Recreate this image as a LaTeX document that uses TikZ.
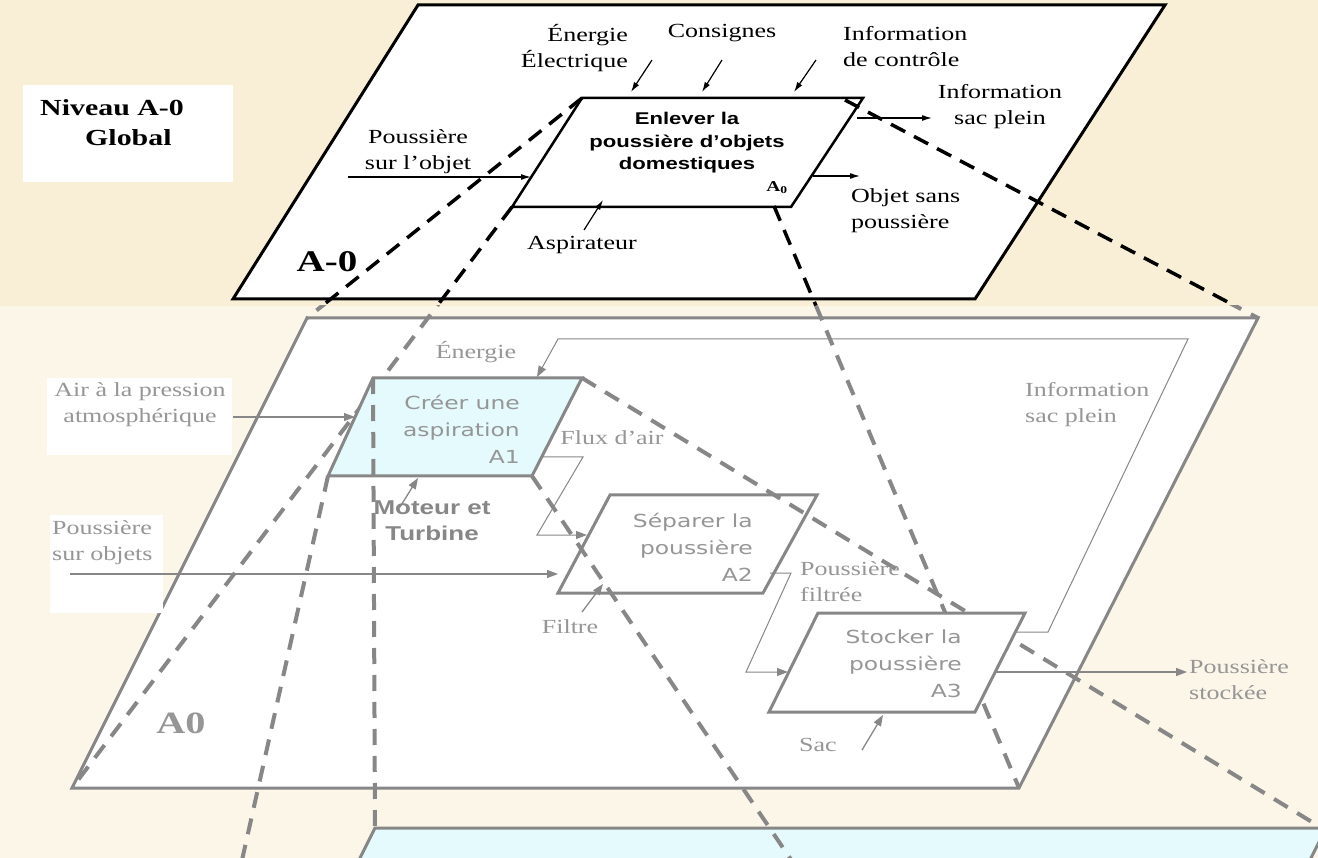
\documentclass[tikz,border=0pt]{standalone}
\usepackage{fontspec}
\setmainfont{Liberation Serif}[FakeStretch=1.3]
\newfontfamily\sansfont{Liberation Sans}[FakeStretch=1.3]
\newfontfamily\boxfont{DejaVu Sans}[FakeStretch=1.3]
\usetikzlibrary{arrows.meta}

\definecolor{topbg}{RGB}{249,239,214}
\definecolor{lowbg}{RGB}{252,246,233}
\definecolor{linegray}{RGB}{135,135,135}
\definecolor{txtgray}{RGB}{150,150,150}
\definecolor{boxcyan}{RGB}{228,250,252}

\tikzset{
	lab/.style={font=\fontsize{20}{26}\selectfont, align=center, inner sep=0pt},
	glab/.style={lab, text=txtgray},
	boxtxt/.style={font=\boxfont\fontsize{18}{27}\selectfont, text=txtgray, align=right, inner sep=0pt, anchor=east},
	blkarrow/.style={draw=black, line width=1.2pt, -{Latex[length=10pt,width=6pt]}},
	grayarrow/.style={draw=linegray, line width=1.3pt, -{Triangle[length=11pt,width=8pt]}},
	projblack/.style={draw=black, line width=3.5pt, dash pattern=on 16pt off 10pt},
	projgray/.style={draw=linegray, line width=4pt, dash pattern=on 16pt off 11pt},
	graybox/.style={draw=linegray, line width=3pt, line join=miter},
}

\begin{document}
\begin{tikzpicture}[x=1pt,y=-1pt]
			%%%%% START %%%%%
			\useasboundingbox (0,0) rectangle (1318,858);
			\clip (0,0) rectangle (1318,858);
			\fill[lowbg] (0,0) rectangle (1318,858);
			\fill[topbg] (0,0) rectangle (1318,306);
			
			% level A-0
			\coordinate (T-tl) at (418,5);
			\coordinate (T-tr) at (1165,5);
			\coordinate (T-br) at (975,299);
			\coordinate (T-bl) at (233,299);
			\coordinate (F-tl) at (582,98);
			\coordinate (F-tr) at (863,98);
			\coordinate (F-br) at (791,207);
			\coordinate (F-bl) at (512,207);
			% level A0
			\coordinate (L-tl) at (307,318);
			\coordinate (L-tr) at (1258,318);
			\coordinate (L-br) at (1019,788);
			\coordinate (L-bl) at (72,788);
			\coordinate (N-tl) at (375,828);
			\coordinate (N-tr) at (1326,828);
			\coordinate (N-br) at (1300,880);
			\coordinate (N-bl) at (349,880);
			\coordinate (A1-tl) at (373,378);
			\coordinate (A1-tr) at (582,378);
			\coordinate (A1-br) at (532,476);
			\coordinate (A1-bl) at (328,476);
			\coordinate (A2-tl) at (610,495);
			\coordinate (A2-tr) at (817,495);
			\coordinate (A2-br) at (763,593);
			\coordinate (A2-bl) at (558,593);
			\coordinate (A3-tl) at (818,613);
			\coordinate (A3-tr) at (1025,613);
			\coordinate (A3-br) at (975,712);
			\coordinate (A3-bl) at (769,712);
			
			\fill[white] (23,85) rectangle (233,182);
			\node[font=\bfseries\fontsize{23}{30}\selectfont, align=left, anchor=west, inner sep=0pt] (niveau) at (40,123) {Niveau A-0\\\hspace*{45pt}Global};
			
			\draw[fill=white, line width=3pt] (T-tl) -- (T-tr) -- (T-br) -- (T-bl) -- cycle;
			\draw[fill=white, line width=2.5pt] (F-tl) -- (F-tr) -- (F-br) -- (F-bl) -- cycle;
			\node[font=\sansfont\bfseries\fontsize{17}{22.5}\selectfont, align=center, inner sep=0pt] (enlever) at (687,143) {Enlever la\\poussière d’objets\\domestiques};
			\node[font=\bfseries\fontsize{15}{15}\selectfont, inner sep=0pt] (a0top) at (777,188) {A\textsubscript{0}};
			\node[font=\bfseries\fontsize{30}{30}\selectfont, inner sep=0pt] (levtop) at (327,262) {A-0};
			
			% A-0 labels and arrows
			\node[lab, align=right, anchor=east] (energie) at (628,48) {Énergie\\Électrique};
			\node[lab] (consignes) at (722,33) {Consignes};
			\node[lab, align=left, anchor=west] (infoctrl) at (843,47) {Information\\de contrôle};
			\node[lab] (infosac) at (1000,107) {Information\\sac plein};
			\node[lab, align=left, anchor=west] (objet) at (851,211) {Objet sans\\poussière};
			\node[lab] (pobjet) at (418,152) {Poussière\\sur l’objet};
			\node[lab] (aspi) at (582,245) {Aspirateur};
			
			\coordinate (c1s) at (652,60);
			\coordinate (c1e) at (631,92);
			\coordinate (c2s) at (722,60);
			\coordinate (c2e) at (702,92);
			\coordinate (c3s) at (816,60);
			\coordinate (c3e) at (794,92);
			\coordinate (ins) at (348,177);
			\coordinate (ine) at (531,177);
			\coordinate (mes) at (584,230);
			\coordinate (mee) at (603,200);
			\coordinate (o1s) at (857,118);
			\coordinate (o1e) at (932,118);
			\coordinate (o2s) at (813,176);
			\coordinate (o2e) at (860,176);
			\foreach \s/\e in {c1s/c1e, c2s/c2e, c3s/c3e, ins/ine, mes/mee, o1s/o1e, o2s/o2e}
				\draw[blkarrow] (\s) -- (\e);
			
			% level A0
			\draw[graybox, fill=white] (L-tl) -- (L-tr) -- (L-br) -- (L-bl) -- cycle;
			\draw[graybox, fill=boxcyan] (N-bl) -- (N-tl) -- (N-tr) -- (N-br);
			\node[font=\bfseries\fontsize{31}{31}\selectfont, text=txtgray, inner sep=0pt] (levlow) at (181,723) {A0};
			\draw[graybox] (A2-tl) -- (A2-tr) -- (A2-br) -- (A2-bl) -- cycle;
			
			\coordinate (p3s) at (774,206);
			\coordinate (p4s) at (845,100);
			\begin{scope}
				\clip (0,0) rectangle (1318,306);
				\foreach \s/\e in {F-tl/L-tl, F-bl/L-bl, p3s/L-br, p4s/L-tr}
					\draw[projblack] (\s) -- (\e);
			\end{scope}
			\begin{scope}
				\clip (0,306) rectangle (1318,858);
				\foreach \s/\e in {F-tl/L-tl, F-bl/L-bl, p3s/L-br, p4s/L-tr}
					\draw[projgray] (\s) -- (\e);
			\end{scope}
			
			\draw[graybox, fill=boxcyan] (A1-tl) -- (A1-tr) -- (A1-br) -- (A1-bl) -- cycle;
			\coordinate (g3e) at (1330,833);
			\coordinate (g4e) at (798,870);
			\coordinate (g6e) at (238,878);
			\foreach \s/\e in {A1-tl/N-tl, A1-tr/g3e, A1-br/g4e, A1-bl/g6e}
				\draw[projgray] (\s) -- (\e);
			\draw[graybox, fill=white] (A3-tl) -- (A3-tr) -- (A3-br) -- (A3-bl) -- cycle;
			
			\node[boxtxt] (a1) at (520,429) {Créer une\\aspiration\\A1};
			\node[boxtxt] (a2) at (753,547) {Séparer la\\poussière\\A2};
			\node[boxtxt] (a3) at (962,664) {Stocker la\\poussière\\A3};
			
			% A0 labels and arrows
			\fill[white] (47,378) rectangle (232,455);
			\fill[white] (50,515) rectangle (163,613);
			\node[glab] (air) at (140,405) {Air à la pression\\atmosphérique};
			\node[glab, align=left, anchor=west] (psur) at (52,543) {Poussière\\sur objets};
			\node[glab] (energ) at (476,352) {Énergie};
			\node[glab, align=left, anchor=west] (infolow) at (1025,405) {Information\\sac plein};
			\node[glab] (flux) at (612,438) {Flux d’air};
			\node[glab, align=left, anchor=west] (pfil) at (800,582) {Poussière\\filtrée};
			\node[glab] (filtre) at (570,627) {Filtre};
			\node[glab] (sac) at (818,745) {Sac};
			\node[glab, align=left, anchor=west] (pstock) at (1189,680) {Poussière\\stockée};
			\node[font=\sansfont\bfseries\fontsize{20}{26}\selectfont, text=linegray, align=center, inner sep=0pt] (moteur) at (432,521) {Moteur et\\Turbine};
			
			\coordinate (airs) at (233,417);
			\coordinate (aire) at (355,417);
			\coordinate (dusts) at (70,574);
			\coordinate (duste) at (558,574);
			\coordinate (mots) at (400,507);
			\coordinate (mote) at (418,478);
			\coordinate (fils) at (582,612);
			\coordinate (file) at (603,584);
			\coordinate (sacs) at (862,750);
			\coordinate (sace) at (883,715);
			\coordinate (sts) at (995,672);
			\coordinate (ste) at (1187,672);
			\foreach \s/\e in {airs/aire, dusts/duste, mots/mote, fils/file, sacs/sace, sts/ste}
				\draw[grayarrow] (\s) -- (\e);
			\draw[grayarrow, line width=1pt] (1015,632) -- (1048,632) -- (1188,339) -- (558,339) -- (537,377);
			\draw[grayarrow, line width=1pt] (542,457) -- (583,457) -- (537,535) -- (587,535);
			\draw[grayarrow, line width=1pt] (770,573) -- (791,573) -- (746,672) -- (788,672);
			
			%%%%% END %%%%%
\end{tikzpicture}
\end{document}
